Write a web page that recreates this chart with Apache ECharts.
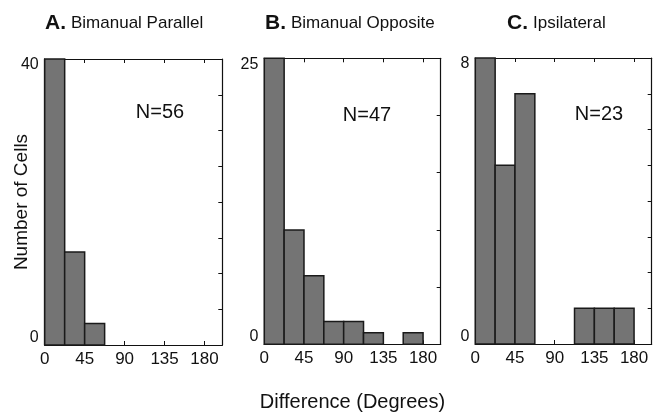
<!DOCTYPE html>
<html>
<head>
<meta charset="utf-8">
<script src="https://cdn.jsdelivr.net/npm/echarts@6/dist/echarts.min.js"></script>
<style>html,body{margin:0;padding:0;background:#fff}#c{width:654px;height:412px}</style>
</head>
<body>
<div id="c"></div>
<script>
// ---- data ----
var binEdges = [0, 22.5, 45, 67.5, 90, 112.5, 135, 157.5, 180];
var countsA = [40, 13, 3, 0, 0, 0, 0, 0];
var countsB = [25, 10, 6, 2, 2, 1, 0, 1];
var countsC = [8, 5, 7, 0, 0, 1, 1, 1];
var xTickLabels = [0, 45, 90, 135, 180];
var yMaxA = 40, yMaxB = 25, yMaxC = 8;
var panelLetters = ['A.', 'B.', 'C.'];
var panelNames = ['Bimanual Parallel', 'Bimanual Opposite', 'Ipsilateral'];
var yAxisTitle = 'Number of Cells';
var xAxisTitle = 'Difference (Degrees)';

var FONT = '"Liberation Sans", Arial, Helvetica, sans-serif';
var INK = '#111';

var panels = [
  {counts: countsA, ymax: yMaxA, yint: 5, grid: {left: 44.7, top: 59, width: 177.6, height: 286}, nPos: [160, 112]},
  {counts: countsB, ymax: yMaxB, yint: 5, grid: {left: 264.3, top: 58.3, width: 176.4, height: 286}, nPos: [367, 115]},
  {counts: countsC, ymax: yMaxC, yint: 1, grid: {left: 475.3, top: 58, width: 176.4, height: 286}, nPos: [599, 114]}
];
var titleLeft = [40, 260, 502];

function binData(counts) {
  var d = [];
  for (var i = 0; i < counts.length; i++) d.push([binEdges[i], binEdges[i + 1], counts[i]]);
  return d;
}
function sum(a) { return a.reduce(function (s, v) { return s + v; }, 0); }

var grids = [], xAxes = [], yAxes = [], series = [], titles = [], graphics = [];
panels.forEach(function (p, i) {
  grids.push(Object.assign({containLabel: false, outerBoundsMode: 'none'}, p.grid));
  var tick = {show: true, inside: true, length: 4, lineStyle: {color: INK, width: 1}};
  var line = {show: true, onZero: false, lineStyle: {color: INK, width: 1.2}};
  xAxes.push({
    type: 'value', gridIndex: i, position: 'bottom', min: 0, max: 200, interval: 45,
    axisLine: line, axisTick: tick, splitLine: {show: false},
    axisLabel: {show: true, color: INK, fontFamily: FONT, fontSize: 17, margin: 6, showMaxLabel: false,
      formatter: function (v) { return xTickLabels.indexOf(v) >= 0 ? String(v) : ''; }},
    name: i === 1 ? xAxisTitle : '', nameLocation: 'middle', nameGap: 48, nameMoveOverlap: false,
    nameTextStyle: {color: INK, fontFamily: FONT, fontSize: 20}
  });
  xAxes.push({
    type: 'value', gridIndex: i, position: 'top', min: 0, max: 200, interval: 45,
    axisLine: line, axisTick: tick, axisLabel: {show: false}, splitLine: {show: false}
  });
  var ymax = p.ymax;
  yAxes.push({
    type: 'value', gridIndex: i, position: 'left', min: 0, max: ymax, interval: p.yint,
    axisLine: line, axisTick: tick, splitLine: {show: false},
    axisLabel: {show: true, color: INK, fontFamily: FONT, fontSize: 16, margin: 6,
      formatter: function (v) { return v === 0 ? '{lo|0}' : (v === ymax ? '{hi|' + v + '}' : ''); },
      rich: {lo: {fontSize: 16, fontFamily: FONT, color: INK, padding: [0, 0, 15, 0]},
             hi: {fontSize: 16, fontFamily: FONT, color: INK, padding: [12, 0, 0, 0]}}},
    name: i === 0 ? yAxisTitle : '', nameLocation: 'middle', nameGap: 13, nameRotate: 90, nameMoveOverlap: false,
    nameTextStyle: {color: INK, fontFamily: FONT, fontSize: 19}
  });
  yAxes.push({
    type: 'value', gridIndex: i, position: 'right', min: 0, max: ymax, interval: p.yint,
    axisLine: line, axisTick: tick, axisLabel: {show: false}, splitLine: {show: false}
  });
  series.push({
    type: 'custom', xAxisIndex: i * 2, yAxisIndex: i * 2,
    data: binData(p.counts), encode: {x: [0, 1], y: 2},
    renderItem: function (params, api) {
      var c = api.value(2);
      if (!c) return null;
      var a = api.coord([api.value(0), c]);
      var b = api.coord([api.value(1), 0]);
      return {type: 'rect', shape: {x: a[0], y: a[1], width: b[0] - a[0], height: b[1] - a[1]},
        style: {fill: '#747474', stroke: '#1a1a1a', lineWidth: 1.5}};
    }
  });
  titles.push({
    left: titleLeft[i], top: 8,
    text: '{b|' + panelLetters[i] + '} {n|' + panelNames[i] + '}',
    textStyle: {rich: {
      b: {fontFamily: FONT, fontWeight: 'bold', fontSize: 21, color: INK},
      n: {fontFamily: FONT, fontWeight: 'normal', fontSize: 17, color: INK}
    }}
  });
  graphics.push({
    type: 'text', x: p.nPos[0], y: p.nPos[1],
    style: {text: 'N=' + sum(p.counts), fontFamily: FONT, fontSize: 20, fill: INK, align: 'center', verticalAlign: 'middle'}
  });
});

var chart = echarts.init(document.getElementById('c'), null, {renderer: 'canvas'});
chart.setOption({
  backgroundColor: '#fff',
  animation: false,
  title: titles,
  grid: grids,
  xAxis: xAxes,
  yAxis: yAxes,
  series: series,
  graphic: graphics
});
</script>
</body>
</html>
